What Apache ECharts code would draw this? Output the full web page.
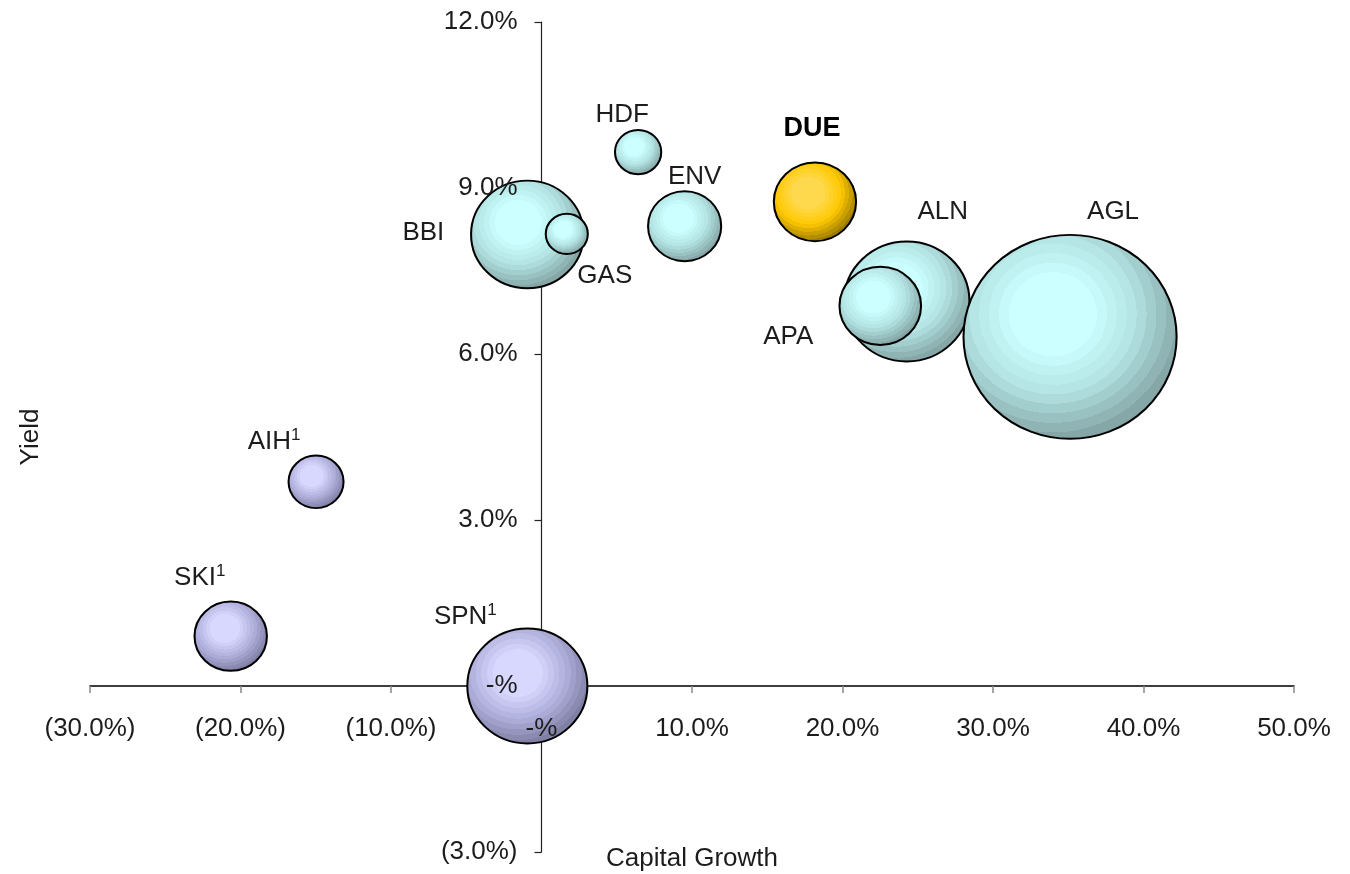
<!DOCTYPE html>
<html><head><meta charset="utf-8">
<script src="https://cdn.jsdelivr.net/npm/echarts@6/dist/echarts.min.js"></script>
<style>html,body{margin:0;padding:0;background:#fff}#c{width:1350px;height:874px}</style>
</head><body><div id="c"></div>
<script>
// ---- data ----
const companies     = ['BBI','GAS','HDF','ENV','DUE','ALN','APA','AGL','AIH','SKI','SPN'];
const capitalGrowth = [-0.94, 1.68, 6.42, 9.51, 18.17, 24.27, 22.51, 35.12, -14.98, -20.65, -0.94];
const yieldPct      = [8.16, 8.17, 9.65, 8.31, 8.75, 6.95, 6.87, 6.31, 3.69, 0.90, 0.00];
const bubbleSize    = [116, 16.2, 19.6, 49, 62, 144, 61, 416, 27.7, 48, 132];
const footnote      = ['', '', '', '', '', '', '', '', '1', '1', '1'];
const groupOf       = ['peer','peer','peer','peer','DUE','peer','peer','peer','other','other','other'];
const xTicks = {min: -30, max: 50, interval: 10};
const yTicks = {min: -3, max: 12, interval: 3};

// ---- styling / layout (not data) ----
const W = 1350, H = 874;
const GRID = {left: 90, right: 56, top: 22, bottom: 22};
const FONT = '"Liberation Sans", Arial, Helvetica, sans-serif';
const TXT = '#1c1c1c';
const labelOffset = {
  BBI: [-104, -2], GAS: [38, 42], HDF: [-16, -37], ENV: [10, -49], DUE: [-3, -73],
  ALN: [36, -90], APA: [-92, 31], AGL: [43, -125], AIH: [-42, -40], SKI: [-31, -58], SPN: [-62, -69]
};
const palette = {
  peer:  ['#ccffff', '#b2e2e2', '#86a7a7'],
  other: ['#d8d8ff', '#b0b0dc', '#8080a6'],
  DUE:   ['#ffd94d', '#ffc800', '#9e7c00']
};
function bandedGradient(colors) {
  const n = 10, stops = [], start = 0.33;
  for (let i = 0; i < n; i++) {
    const c = echarts.color.lerp(i / (n - 1), colors);
    const a = i === 0 ? 0 : start + (1 - start) * (i - 1) / (n - 1);
    const b = start + (1 - start) * i / (n - 1);
    stops.push({offset: a, color: c}, {offset: Math.min(b, 1), color: c});
  }
  return {type: 'radial', x: 0.42, y: 0.39, r: 0.62, colorStops: stops};
}
function pctFmt(v) {
  if (Math.abs(v) < 1e-9) return '-%';
  return v < 0 ? '(' + Math.abs(v).toFixed(1) + '%)' : v.toFixed(1) + '%';
}
// axes cross at zero: shift each axis from the grid edge to the other axis's zero
const plotW = W - GRID.left - GRID.right, plotH = H - GRID.top - GRID.bottom;
const xAxisShift = -plotH * (0 - yTicks.min) / (yTicks.max - yTicks.min);
const yAxisShift = -plotW * (0 - xTicks.min) / (xTicks.max - xTicks.min);

const seriesData = companies.map((name, i) => {
  const g = groupOf[i];
  return {
    name: name,
    value: [capitalGrowth[i], yieldPct[i], bubbleSize[i]],
    itemStyle: {color: bandedGradient(palette[g]), borderColor: '#000', borderWidth: 2, opacity: 1},
    label: {
      offset: labelOffset[name],
      formatter: footnote[i] ? '{n|' + name + '}{s|' + footnote[i] + '}' : (g === 'DUE' ? '{b|' + name + '}' : '{n|' + name + '}')
    }
  };
});

const noStroke = {textBorderWidth: 0, textBorderColor: 'transparent', textShadowBlur: 0};
const baseLabel = {fontFamily: FONT, fontSize: 26, color: TXT};
const xScale = {type: 'value', min: xTicks.min, max: xTicks.max, interval: xTicks.interval, position: 'bottom', offset: xAxisShift};
const yScale = {type: 'value', min: yTicks.min, max: yTicks.max, interval: yTicks.interval, position: 'left', offset: yAxisShift};
const chart = echarts.init(document.getElementById('c'));
chart.setOption({
  animation: false,
  backgroundColor: '#fff',
  grid: Object.assign({containLabel: false, outerBoundsMode: 'none'}, GRID),
  xAxis: [
    // labels, drawn above the bubbles
    Object.assign({}, xScale, {z: 10,
     axisLine: {show: false, onZero: false}, axisTick: {show: false},
     axisLabel: Object.assign({show: true, margin: 30, formatter: pctFmt, hideOverlap: false,
       showMinLabel: true, showMaxLabel: true}, baseLabel),
     splitLine: {show: false}}),
    // line + ticks + name, drawn below the bubbles
    Object.assign({}, xScale, {z: 0,
     name: 'Capital Growth', nameLocation: 'middle', nameGap: 160,
     nameTextStyle: {fontFamily: FONT, fontSize: 26, color: TXT},
     axisLine: {show: true, onZero: false, lineStyle: {color: '#000', width: 1.5}},
     axisTick: {show: true, inside: false, length: 7, lineStyle: {color: '#888', width: 1.5}},
     axisLabel: {show: false}, splitLine: {show: false}})
  ],
  yAxis: [
    Object.assign({}, yScale, {z: 10,
     axisLine: {show: false, onZero: false}, axisTick: {show: false},
     axisLabel: Object.assign({show: true, margin: 24, formatter: pctFmt, hideOverlap: false,
       showMinLabel: true, showMaxLabel: true}, baseLabel),
     splitLine: {show: false}}),
    Object.assign({}, yScale, {z: 0,
     name: 'Yield', nameLocation: 'middle', nameGap: 498, nameRotate: 90,
     nameTextStyle: {fontFamily: FONT, fontSize: 26, color: TXT},
     axisLine: {show: true, onZero: false, lineStyle: {color: '#222', width: 1.2}},
     axisTick: {show: true, inside: false, length: 7, lineStyle: {color: '#222', width: 1.2}},
     axisLabel: {show: false}, splitLine: {show: false}})
  ],
  series: [{
    type: 'scatter',
    xAxisIndex: 0, yAxisIndex: 0,
    z: 2,
    data: seriesData,
    symbol: 'circle',
    itemStyle: {opacity: 1},
    symbolSize: function (val) { const d = 10 * Math.sqrt(val[2]); return [d * 1.045, d]; },
    label: Object.assign({
      show: true, position: ['50%', '50%'], align: 'center', verticalAlign: 'middle', color: TXT, opacity: 1,
      rich: {
        n: Object.assign({fontFamily: FONT, fontSize: 26, lineHeight: 30, color: TXT}, noStroke),
        b: Object.assign({fontFamily: FONT, fontSize: 27, lineHeight: 30, color: '#000', fontWeight: 'bold'}, noStroke),
        s: Object.assign({fontFamily: FONT, fontSize: 17, lineHeight: 17, color: TXT, verticalAlign: 'top'}, noStroke)
      }
    }, noStroke),
    emphasis: {disabled: true}
  }]
});
</script>
</body></html>
